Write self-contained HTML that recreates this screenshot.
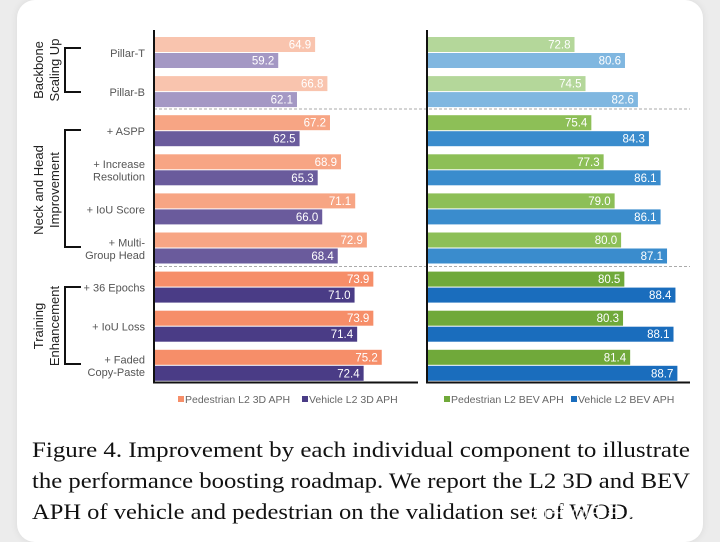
<!DOCTYPE html>
<html><head><meta charset="utf-8"><style>
body{margin:0;background:#ececec;}
#wrap{position:relative;width:720px;height:542px;overflow:hidden;background:#ececec;}
#card{position:absolute;left:17px;top:0;width:686px;height:542px;background:#fff;border-radius:18px;box-shadow:0 0 8px rgba(0,0,0,0.08);}
svg{position:absolute;left:0;top:0;}
</style></head><body>
<div id="wrap">
<div id="card"></div>
<svg id="chart" width="720" height="542" font-family="Liberation Sans, sans-serif"></svg>
</div>
<script>
const categories=[["Pillar-T"],["Pillar-B"],["+ ASPP"],["+ Increase","Resolution"],["+ IoU Score"],["+ Multi-","Group Head"],["+ 36 Epochs"],["+ IoU Loss"],["+ Faded","Copy-Paste"]];
const ped3d=[64.9,66.8,67.2,68.9,71.1,72.9,73.9,73.9,75.2];
const veh3d=[59.2,62.1,62.5,65.3,66.0,68.4,71.0,71.4,72.4];
const pedBev=[72.8,74.5,75.4,77.3,79.0,80.0,80.5,80.3,81.4];
const vehBev=[80.6,82.6,84.3,86.1,86.1,87.1,88.4,88.1,88.7];
const groupOf=[0,0,1,1,1,1,2,2,2];
const NS='http://www.w3.org/2000/svg';
const svg=document.getElementById('chart');
function mk(t,a,txt){const e=document.createElementNS(NS,t);for(const k in a)e.setAttribute(k,a[k]);if(txt!==undefined)e.textContent=txt;svg.appendChild(e);return e;}
const scale=6.47;
const xL=v=>154+(v-40)*scale;
const xR=v=>427+(v-50)*scale;
const rowY=i=>37+i*39.1;
const cPed=['#f9c4ae','#f7a584','#f68e69'];
const cVeh=['#a498c4','#6a5b9c','#4a3c86'];
const cGreen=['#b4d79a','#8dbf57','#70a93a'];
const cBlue=['#80b7e0','#3a8ccd','#1a6dbd'];
function bars(vals,xf,x0,colors,off,nm){
 vals.forEach((v,i)=>{
  const y=rowY(i)+off;
  const r=mk('rect',{x:x0,y:y,width:xf(v)-x0,height:15,fill:colors[groupOf[i]]});
  
  
  const t=mk('text',{x:xf(v)-4,y:y+11.5,'text-anchor':'end','font-size':11.5,fill:'#fff'},v.toFixed(1));
  
  
 });
}
bars(ped3d,xL,154,cPed,0,'ped-3d');
bars(veh3d,xL,154,cVeh,16,'veh-3d');
bars(pedBev,xR,427,cGreen,0,'ped-bev');
bars(vehBev,xR,427,cBlue,16,'veh-bev');
// dashed separators
[109,266.5].forEach((y,i)=>{const l=mk('line',{x1:154,x2:690,y1:y,y2:y,stroke:'#aaa','stroke-dasharray':'3,2','stroke-width':1});});
// axes
[[154,30,154,382.5,'left-y-axis'],[153,382.5,418,382.5,'left-x-axis'],[427,30,427,382.5,'right-y-axis'],[426,382.5,690,382.5,'right-x-axis']].forEach(a=>{const l=mk('line',{x1:a[0],y1:a[1],x2:a[2],y2:a[3],stroke:'#111','stroke-width':2});});
// category labels
categories.forEach((c,i)=>{const cy=rowY(i)+16;c.forEach((s,j)=>{const y=cy+4+(j-(c.length-1)/2)*12.5;const t=mk('text',{x:145,y:y,'text-anchor':'end','font-size':11,fill:'#555'},s);});});
// group brackets & labels
const groups=[[["Backbone","Scaling Up"],48,92,70],[["Neck and Head","Improvement"],130,247,190],[["Training","Enhancement"],287,364,326]];
groups.forEach(g=>{
 const p=mk('path',{d:`M81 ${g[1]} H65 V${g[2]} H81`,fill:'none',stroke:'#111','stroke-width':2});
 
 g[0].forEach((s,j)=>{const x=43+j*16;const t=mk('text',{x:x,y:g[3],'text-anchor':'middle','font-size':13,fill:'#222',transform:`rotate(-90 ${x} ${g[3]})`},s);});
});
// legends
const leg=[[178,'#f68e69','Pedestrian L2 3D APH'],[302,'#4a3c86','Vehicle L2 3D APH'],[444,'#70a93a','Pedestrian L2 BEV APH'],[571,'#1a6dbd','Vehicle L2 BEV APH']];
leg.forEach(l=>{const r=mk('rect',{x:l[0],y:396,width:6,height:6,fill:l[1]});const t=mk('text',{x:l[0]+7,y:403,'font-size':10.5,fill:'#666'},l[2]);});
// caption
const cap=[["Figure 4. Improvement by each individual component to illustrate",32,457,658],["the performance boosting roadmap. We report the L2 3D and BEV",32,488,658],["APH of vehicle and pedestrian on the validation set of WOD.",32,519,602]];
cap.forEach(c=>{const t=mk('text',{x:c[1],y:c[2],'font-size':22.5,'font-family':'Liberation Serif, serif',fill:'#111',textLength:c[3],lengthAdjust:'spacingAndGlyphs'},c[0]);});
const w=mk('text',{x:530,y:519,'font-size':18,'font-family':'Liberation Sans, Noto Sans CJK SC, sans-serif',fill:'#fff',opacity:0.85},'知乎 @牛牛肉饭');
</script>
</body></html>
